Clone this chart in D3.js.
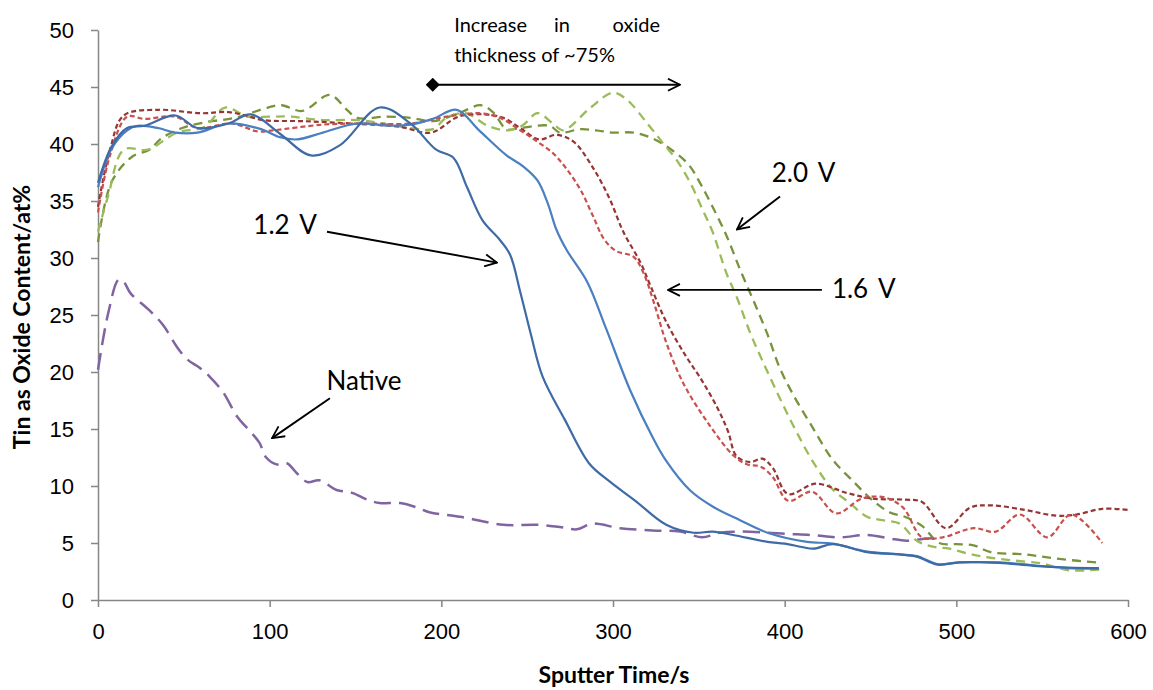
<!DOCTYPE html>
<html>
<head>
<meta charset="utf-8">
<script src="https://cdn.jsdelivr.net/npm/d3@7"></script>
<style>
  body { margin: 0; background: #fff; }
  svg { font-family: Lato, "Open Sans", sans-serif; }
  .axis path, .axis line { stroke: #868686; stroke-width: 1.5; }
  .axis text { font-size: 22px; fill: #000; }
</style>
</head>
<body>
<div id="chart"></div>
<script>
// [sputter time (s), tin as oxide (at%)]
const native = [[0,20.2],[6,25.2],[12,28.1],[15,27.9],[19,26.9],[30,25.4],[38,24.1],[46,22.2],[52,21.1],[59,20.4],[65,19.6],[73,18.2],[81,16.1],[88,14.9],[94,13.8],[98,12.5],[104,11.9],[110,12.0],[116,11.1],[122,10.35],[129,10.5],[139,9.65],[148,9.4],[157,8.8],[164,8.5],[176,8.5],[186,8.1],[193,7.7],[211,7.3],[236,6.6],[256,6.6],[269,6.4],[279,6.2],[288,6.7],[304,6.3],[323,6.1],[339,6.0],[352,5.5],[362,5.9],[374,6.0],[390,5.9],[401,5.8],[416,5.7],[432,5.5],[448,5.7],[461,5.4],[471,5.2],[483,5.4],[490,5.4]];

const v12a = [[0,36.6],[8,39.8],[17,41.4],[27,41.6],[45,42.5],[58,41.4],[76,41.8],[89,42.6],[106,40.9],[124,39.0],[141,39.9],[164,43.2],[182,41.8],[197,39.5],[207,38.8],[215,36.2],[224,33.3],[234,31.6],[240,30.3],[246,27.0],[252,23.4],[259,19.6],[272,15.8],[286,12.0],[298,10.4],[313,8.7],[331,6.6],[347,5.9],[358,6.0],[370,5.7],[390,5.1],[400,4.95],[410,4.65],[417,4.5],[428,4.9],[448,4.2],[467,4.0],[477,3.8],[489,3.1],[502,3.3],[525,3.25],[545,3.0],[565,2.85],[583,2.8]];
const v12b = [[0,36.2],[8,39.6],[17,41.2],[23,41.6],[35,41.4],[45,41.0],[58,41.0],[76,41.8],[95,41.3],[106,40.6],[116,40.4],[131,41.0],[151,41.8],[170,41.6],[182,41.7],[195,42.2],[209,43.0],[222,41.2],[238,39.0],[248,38.0],[256,36.8],[262,34.8],[267,32.5],[273,30.7],[285,27.9],[296,23.8],[310,18.4],[323,14.3],[331,12.2],[345,9.6],[358,8.2],[374,7.0],[390,5.9],[413,5.1],[428,4.95],[448,4.25],[467,4.0],[477,3.85],[489,3.15],[502,3.3],[525,3.3],[545,3.05],[565,2.8],[583,2.75]];

const v16a = [[0,34.5],[7,39.5],[15,42.5],[35,43.0],[60,42.7],[76,42.8],[86,42.5],[96,42.1],[120,42.0],[147,41.8],[176,41.5],[194,41.0],[210,42.4],[225,42.6],[236,42.3],[246,41.4],[257,40.4],[267,40.8],[277,40.2],[288,38.0],[298,35.2],[306,32.3],[316,29.6],[322,27.5],[331,24.4],[342,21.5],[352,19.2],[361,16.8],[367,14.8],[372,12.6],[380,12.1],[387,12.4],[393,11.6],[402,9.3],[418,10.2],[436,9.4],[451,8.9],[470,8.8],[480,8.6],[494,6.3],[508,8.1],[520,8.3],[540,7.9],[558,7.4],[570,7.5],[585,8.0],[600,7.9]];
const v16b = [[0,34.0],[7,39.0],[17,42.4],[27,42.2],[45,42.4],[58,41.4],[78,41.8],[93,41.1],[102,41.2],[131,41.7],[151,41.8],[182,41.8],[203,42.4],[222,42.7],[234,42.3],[246,41.2],[256,40.2],[265,39.2],[273,37.8],[281,36.0],[288,33.8],[295,31.6],[302,30.6],[312,30.1],[318,28.6],[324,26.0],[331,22.6],[341,19.0],[355,15.6],[370,12.7],[378,11.9],[386,11.7],[393,10.8],[402,8.7],[416,9.5],[430,7.6],[445,8.9],[458,9.0],[469,8.1],[480,5.5],[492,5.5],[510,6.3],[523,6.0],[537,7.5],[553,5.5],[567,7.5],[585,5.0]];

const v20a = [[0,32.3],[6,35.5],[15,39.5],[29,39.5],[46,41.0],[62,41.5],[74,43.2],[87,42.4],[100,42.4],[112,42.4],[131,42.1],[151,42.1],[166,41.8],[182,41.4],[195,41.3],[203,42.3],[214,42.7],[227,41.6],[238,41.2],[247,41.6],[256,42.7],[265,41.8],[271,41.2],[287,43.2],[300,44.5],[308,43.9],[320,41.8],[329,40.1],[337,38.6],[345,36.6],[352,34.3],[358,32.3],[366,28.7],[372,26.6],[380,23.4],[387,21.0],[395,18.4],[404,15.6],[417,12.0],[428,9.7],[438,8.5],[448,7.3],[457,7.0],[467,6.7],[477,5.2],[487,4.65],[496,4.5],[506,4.1],[516,3.8],[531,3.5],[550,3.2],[566,2.6],[585,2.7]];
const v20b = [[0,31.4],[8,36.7],[20,38.9],[30,39.5],[37,40.5],[49,41.4],[62,41.9],[80,42.3],[99,43.2],[107,43.4],[119,42.9],[135,44.3],[145,43.0],[151,42.3],[168,42.4],[182,42.3],[195,42.0],[210,42.7],[223,43.4],[230,42.8],[238,41.3],[246,41.4],[263,41.6],[269,41.0],[281,41.3],[290,41.2],[300,41.0],[312,41.0],[323,40.5],[334,39.5],[344,38.2],[351,36.5],[358,34.5],[366,32.0],[374,29.0],[382,26.2],[390,23.3],[397,20.4],[405,18.0],[416,15.2],[428,12.3],[440,10.4],[450,8.9],[461,7.7],[470,7.3],[480,6.5],[490,5.0],[500,4.9],[510,4.8],[520,4.2],[540,4.0],[560,3.6],[585,3.25]];

const xTicks = [0, 100, 200, 300, 400, 500, 600];
const yTicks = [0, 5, 10, 15, 20, 25, 30, 35, 40, 45, 50];

const series = [
    { data: native, color: "#8064a2", width: 2.5, dash: "17,8" },
    { data: v20b, color: "#77933c", width: 2.3, dash: "9,6" },
    { data: v20a, color: "#9bbb59", width: 2.3, dash: "9,6" },
    { data: v16a, color: "#963634", width: 2.2, dash: "5,3" },
    { data: v16b, color: "#c9504d", width: 2.2, dash: "5,3" },
    { data: v12b, color: "#4a7fc0", width: 2.2, dash: null },
    { data: v12a, color: "#3e6ba6", width: 2.2, dash: null }
];

const margin = { top: 30, right: 25, bottom: 90, left: 98 };
const width = 1153 - margin.left - margin.right;
const height = 690 - margin.top - margin.bottom;

const svg = d3.select("#chart")
    .append("svg")
    .attr("width", 1153)
    .attr("height", 690);

const g = svg.append("g")
    .attr("transform", `translate(${margin.left},${margin.top})`);

const x = d3.scaleLinear().domain([0, 600]).range([0, width]);
const y = d3.scaleLinear().domain([0, 50]).range([height, 0]);

// axes
g.append("g")
    .attr("class", "axis")
    .call(d3.axisLeft(y).tickValues(yTicks).tickSize(7).tickSizeOuter(0).tickPadding(17));

g.append("g")
    .attr("class", "axis")
    .attr("transform", `translate(0,${height})`)
    .call(d3.axisBottom(x).tickValues(xTicks).tickSize(7).tickSizeOuter(0).tickPadding(16));

// smoothed lines, like the spreadsheet
const line = d3.line()
    .x(d => x(d[0]))
    .y(d => y(d[1]))
    .curve(d3.curveCatmullRom.alpha(0.5));

g.selectAll(".series")
    .data(series)
    .enter()
    .append("path")
    .attr("class", "series")
    .attr("d", d => line(d.data))
    .attr("fill", "none")
    .attr("stroke", d => d.color)
    .attr("stroke-width", d => d.width)
    .attr("stroke-dasharray", d => d.dash)
    .attr("stroke-linejoin", "round");

// axis titles
svg.append("text")
    .attr("transform", `translate(30,${margin.top + height / 2 + 2}) rotate(-90)`)
    .attr("text-anchor", "middle")
    .style("font-weight", "bold")
    .style("font-size", "23px")
    .text("Tin as Oxide Content/at%");

svg.append("text")
    .attr("x", margin.left + width / 2 + 1)
    .attr("y", 683)
    .attr("text-anchor", "middle")
    .style("font-weight", "bold")
    .style("font-size", "23px")
    .text("Sputter Time/s");

// annotations
const defs = svg.append("defs");
defs.append("marker")
    .attr("id", "open")
    .attr("viewBox", "0 0 14 14")
    .attr("refX", 13)
    .attr("refY", 7)
    .attr("markerWidth", 14)
    .attr("markerHeight", 14)
    .attr("markerUnits", "userSpaceOnUse")
    .attr("orient", "auto")
    .append("path")
    .attr("d", "M1,1 L13,7 L1,13")
    .attr("fill", "none")
    .attr("stroke", "#000")
    .attr("stroke-width", 1.8);

defs.append("marker")
    .attr("id", "diamond")
    .attr("viewBox", "0 0 14 14")
    .attr("refX", 7)
    .attr("refY", 7)
    .attr("markerWidth", 14)
    .attr("markerHeight", 14)
    .attr("markerUnits", "userSpaceOnUse")
    .append("path")
    .attr("d", "M0,7 L7,0 L14,7 L7,14 Z")
    .attr("fill", "#000");

function arrow(x1, y1, x2, y2, start) {
    g.append("line")
        .attr("x1", x(x1)).attr("y1", y(y1))
        .attr("x2", x(x2)).attr("y2", y(y2))
        .attr("stroke", "#000")
        .attr("stroke-width", 1.9)
        .attr("marker-end", "url(#open)")
        .attr("marker-start", start ? "url(#diamond)" : null);
}

function label(tx, ty, txt, anchor, size) {
    g.append("text")
        .attr("x", x(tx))
        .attr("y", y(ty))
        .attr("dy", "0.35em")
        .attr("text-anchor", anchor || "middle")
        .style("font-size", (size || 26) + "px")
        .style("word-spacing", size ? null : "4px")
        .text(txt);
}

arrow(195, 45.2, 339, 45.2, true);
label(207.5, 50.4, "Increase", "start", 20);
label(270.3, 50.4, "in", "middle", 20);
label(327.4, 50.4, "oxide", "end", 20);
label(207.5, 47.8, "thickness of ~75%", "start", 20);

arrow(133.4, 32.3, 232.4, 29.6);
label(109, 32.9, "1.2 V");

arrow(421.7, 27.2, 332, 27.2);
label(427.5, 27.3, "1.6 V", "start");

arrow(397.3, 35.4, 372.2, 32.5);
label(411, 37.5, "2.0 V");

arrow(135.1, 17.7, 101.4, 14.2);
label(155, 19.2, "Native");
</script>
</body>
</html>
